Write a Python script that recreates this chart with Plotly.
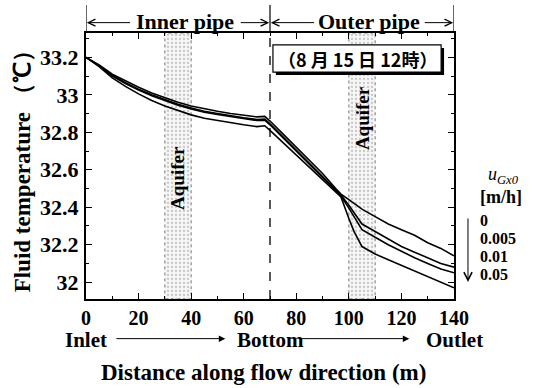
import plotly.graph_objects as go

# ---------------- data ----------------
distance = [0, 5, 10, 15, 20, 25, 30, 35, 40, 45, 50, 55, 60, 65, 68, 70,
            75, 80, 85, 90, 95, 97, 100, 102, 105, 110, 115, 120, 125, 130, 135, 140]
temp_u0 = [33.20, 33.16, 33.11, 33.075, 33.04, 33.01, 32.985, 32.96, 32.94, 32.925, 32.912, 32.90,
           32.89, 32.882, 32.885, 32.86, 32.79, 32.72, 32.65, 32.58, 32.50, 32.47, 32.44, 32.42,
           32.39, 32.35, 32.31, 32.28, 32.25, 32.21, 32.18, 32.14]
temp_u0005 = [33.20, 33.155, 33.105, 33.065, 33.03, 33.0, 32.975, 32.95, 32.93, 32.912, 32.90, 32.888,
              32.877, 32.868, 32.87, 32.845, 32.775, 32.705, 32.635, 32.565, 32.49, 32.465, 32.41, 32.37,
              32.31, 32.27, 32.23, 32.19, 32.16, 32.13, 32.10, 32.08]
temp_u001 = [33.20, 33.155, 33.10, 33.06, 33.025, 32.995, 32.97, 32.945, 32.925, 32.907, 32.895, 32.883,
             32.872, 32.863, 32.865, 32.84, 32.77, 32.70, 32.63, 32.56, 32.485, 32.46, 32.395, 32.35,
             32.28, 32.24, 32.20, 32.165, 32.13, 32.10, 32.07, 32.05]
temp_u005 = [33.20, 33.15, 33.09, 33.045, 33.005, 32.97, 32.94, 32.915, 32.893, 32.875, 32.862, 32.85,
             32.84, 32.83, 32.835, 32.81, 32.745, 32.68, 32.615, 32.55, 32.48, 32.455, 32.34, 32.27,
             32.19, 32.15, 32.12, 32.09, 32.06, 32.03, 32.00, 31.97]
series = [temp_u0, temp_u0005, temp_u001, temp_u005]
legend_values = ["0", "0.005", "0.01", "0.05"]

aquifer_ranges = [(30, 40), (100, 110)]
pipe_boundary = 70
x_ticks = [0, 20, 40, 60, 80, 100, 120, 140]
y_ticks = [32, 32.2, 32.4, 32.6, 32.8, 33, 33.2]
y_ticklabels = ["32", "32.2", "32.4", "32.6", "32.8", "33", "33.2"]
x_range = [0, 140]
y_range = [31.91, 33.33]
flow_labels = [(0, "Inlet"), (70, "Bottom"), (140, "Outlet")]
pipe_labels = [((0, 70), "Inner pipe"), ((70, 140), "Outer pipe")]

SERIF = "Liberation Serif"
CJK = "Noto Sans CJK JP"
PX = 368 / 140.0  # pixels per metre (for arrow offsets)


def label(**kw):
    kw.setdefault("xanchor", "center")
    kw.setdefault("yanchor", "middle")
    kw.setdefault("showarrow", False)
    fig.add_annotation(**kw)


fig = go.Figure()

# aquifer bands
for a, b in aquifer_ranges:
    fig.add_trace(go.Scatter(
        x=[a, b, b, a, a], y=[y_range[0], y_range[0], y_range[1], y_range[1], y_range[0]],
        mode="lines", fill="toself", fillcolor="rgba(0,0,0,0)",
        fillpattern=dict(shape=".", fgcolor="#9a9a9a", bgcolor="#f6f6f6", size=4, solidity=0.25),
        line=dict(color="#777777", width=1, dash="dot"), hoverinfo="skip", showlegend=False))

for s in series:
    fig.add_trace(go.Scatter(x=distance, y=s, mode="lines",
                             line=dict(color="black", width=1.6), showlegend=False))

# boundary dashed line
fig.add_shape(type="line", xref="x", yref="paper", x0=pipe_boundary, x1=pipe_boundary, y0=0, y1=1,
              line=dict(color="black", width=1.3, dash="dash"))

# header dividers
for xv in [0, 70, 140]:
    fig.add_shape(type="line", xref="x", yref="paper", x0=xv, x1=xv, y0=1.0, y1=1.105,
                  line=dict(color="black", width=1.2))

# header text with arrows
hdr_y = 1.045
for (a, b), txt in pipe_labels:
    c = (a + b) / 2 + 2.8
    label(x=c, y=hdr_y, xref="x", yref="paper", text="<b>%s</b>" % txt,
          font=dict(family=SERIF, size=22, color="black"))
    half = 20.5
    fig.add_annotation(x=a + 0.3, y=hdr_y - 0.006, ax=(c - half - a - 0.3) * PX, ay=0,
                       xref="x", yref="paper", text="", showarrow=True, arrowhead=5,
                       arrowsize=1.4, arrowwidth=1, arrowcolor="black")
    fig.add_annotation(x=b - 0.3, y=hdr_y - 0.006, ax=(c + half - b + 0.3) * PX, ay=0,
                       xref="x", yref="paper", text="", showarrow=True, arrowhead=5,
                       arrowsize=1.4, arrowwidth=1, arrowcolor="black")

# Inlet -> Bottom -> Outlet
flow_y = -0.153
for xv, txt in flow_labels:
    label(x=xv, y=flow_y, xref="x", yref="paper", text="<b>%s</b>" % txt,
          font=dict(family=SERIF, size=21, color="black"))
for (x0, _), (x1, _) in zip(flow_labels[:-1], flow_labels[1:]):
    fig.add_annotation(x=x1 - 17, y=flow_y + 0.004, ax=(x0 + 11 - (x1 - 17)) * PX, ay=0,
                       xref="x", yref="paper", text="", showarrow=True, arrowhead=2,
                       arrowsize=1.3, arrowwidth=1, arrowcolor="black")

# x title
label(x=0.481, y=-0.278, xref="paper", yref="paper",
      text="<b>Distance along flow direction (m)</b>",
      font=dict(family=SERIF, size=23, color="black"))
# y title
label(x=-0.173, y=0.5, xref="paper", yref="paper", textangle=-90,
      text="<b>Fluid temperature （℃）</b>",
      font=dict(family=SERIF, size=23, color="black"))

# Aquifer labels
for (a, b), yp in zip(aquifer_ranges, [0.455, 0.68]):
    label(x=(a + b) / 2, y=yp, xref="x", yref="paper", textangle=-90,
          text="<b>Aquifer</b>", font=dict(family=SERIF, size=19, color="black"))

# date box with shadow
fig.add_shape(type="rect", xref="paper", yref="paper", x0=0.516, x1=0.973, y0=0.842, y1=0.944,
              fillcolor="black", line=dict(width=0), layer="above")
fig.add_shape(type="rect", xref="paper", yref="paper", x0=0.508, x1=0.965, y0=0.853, y1=0.955,
              fillcolor="white", line=dict(color="black", width=1.2), layer="above")
label(x=0.7365, y=0.904, xref="paper", yref="paper",
      text="<b>（8 月 15 日 12時）</b>", font=dict(family=CJK, size=18, color="black"))

# legend-like labels at right
label(x=1.135, y=0.465, xref="paper", yref="paper",
      text="<i>u</i><sub><i>Gx0</i></sub>", font=dict(family=SERIF, size=18, color="black"))
label(x=1.128, y=0.382, xref="paper", yref="paper", text="<b>[m/h]</b>",
      font=dict(family=SERIF, size=18, color="black"))
for v, yp in zip(legend_values, [0.296, 0.228, 0.160, 0.092]):
    label(x=1.065, y=yp, xref="paper", yref="paper", text="<b>%s</b>" % v, xanchor="left",
          font=dict(family=SERIF, size=16, color="black"))
fig.add_annotation(x=1.038, y=0.064, ax=0, ay=-65, xref="paper", yref="paper",
                   text="", showarrow=True, arrowhead=5,
                   arrowsize=1.6, arrowwidth=1, arrowcolor="black")

fig.update_xaxes(range=x_range, tickvals=x_ticks, ticks="inside", ticklen=6, tickwidth=1.2,
                 tickcolor="black", minor=dict(dtick=10, ticks="inside", ticklen=3, tickcolor="black"),
                 showline=True, linecolor="black", linewidth=2, mirror="ticks", showgrid=False,
                 zeroline=False, ticklabelstandoff=0,
                 tickfont=dict(family=SERIF, size=20, color="black", weight="bold"))
fig.update_yaxes(range=y_range, tickvals=y_ticks, ticktext=y_ticklabels, ticks="inside", ticklen=6,
                 tickwidth=1.2, tickcolor="black",
                 minor=dict(dtick=0.1, tick0=32, ticks="inside", ticklen=3, tickcolor="black"),
                 showline=True, linecolor="black", linewidth=2, mirror="ticks", showgrid=False,
                 zeroline=False, ticklabelstandoff=1,
                 tickfont=dict(family=SERIF, size=22, color="black", weight="bold"))

fig.update_layout(width=537, height=388, margin=dict(l=86, r=83, t=33, b=89),
                  paper_bgcolor="white", plot_bgcolor="white", showlegend=False)

fig.write_html("out.html")
